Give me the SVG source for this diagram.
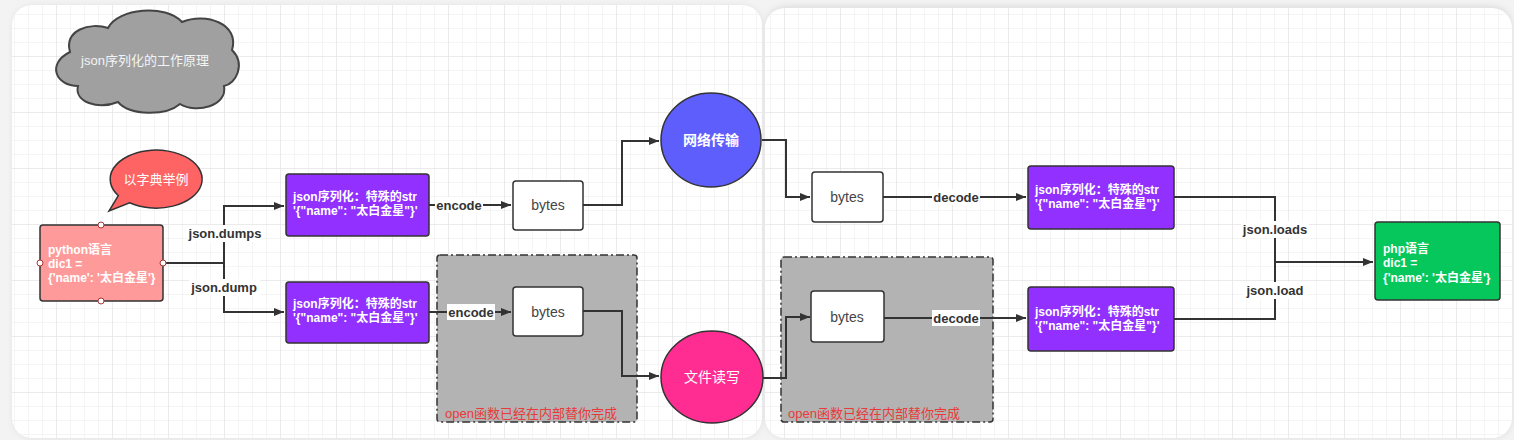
<svg xmlns="http://www.w3.org/2000/svg" width="1514" height="440" viewBox="0 0 1514 440">
<defs>
<pattern id="gridMinor" width="14" height="14" patternUnits="userSpaceOnUse">
<path d="M14 0 L0 0 0 14" fill="none" stroke="#ececec" stroke-width="1"/>
</pattern>
<pattern id="gridMajor" width="56" height="56" patternUnits="userSpaceOnUse">
<rect width="56" height="56" fill="url(#gridMinor)"/>
<path d="M56 0 L0 0 0 56" fill="none" stroke="#e0e0e0" stroke-width="1"/>
</pattern>
<marker id="arr" viewBox="0 0 10 10" refX="10" refY="5" markerWidth="10" markerHeight="10" markerUnits="userSpaceOnUse" orient="auto">
<path d="M0 1 L10 5 L0 9 Z" fill="#333"/>
</marker>
<filter id="sh" x="-5%" y="-5%" width="110%" height="110%">
<feGaussianBlur stdDeviation="3"/>
</filter>
</defs>
<style>
.panel{fill:url(#gridMajor);}
.edge{fill:none;stroke:#333;stroke-width:2;}
.lbl{font-family:"Liberation Sans","Noto Sans CJK SC",sans-serif;font-size:13px;font-weight:bold;fill:#333;}
.lblbg{fill:#fff;}
.purple rect{fill:#9130ff;stroke:#333;stroke-width:1.5;}
.wt{font-family:"Liberation Sans","Noto Sans CJK SC",sans-serif;font-size:12px;font-weight:bold;fill:#fff;}
.bytes rect{fill:#fff;stroke:#333;stroke-width:1.5;}
.bt{font-family:"Liberation Sans","Noto Sans CJK SC",sans-serif;font-size:14px;fill:#444;}
.grp rect{fill:#b3b3b3;stroke:#333;stroke-width:1.5;stroke-dasharray:8 3 2 3;}
.red{font-family:"Liberation Sans","Noto Sans CJK SC",sans-serif;font-size:13px;fill:#e83a3a;}
.ct{font-family:"Noto Sans CJK SC",sans-serif;font-size:14px;font-weight:bold;fill:#fff;}
.ct.reg{font-weight:normal;}
</style>
<rect width="1514" height="440" fill="#f3f3f3"/>
<rect x="13" y="6" width="749" height="432" rx="20" fill="#ddd" filter="url(#sh)"/>
<rect x="766" y="6" width="746" height="432" rx="20" fill="#ddd" filter="url(#sh)"/>
<rect x="12" y="5" width="750" height="433" rx="20" fill="#fff"/>
<rect x="12" y="5" width="750" height="433" rx="20" class="panel"/>
<rect x="765" y="8" width="747" height="430" rx="20" fill="#fff"/>
<rect x="765" y="8" width="747" height="430" rx="20" class="panel"/>

<g id="group-left" class="grp"><rect x="437" y="255" width="200" height="167" rx="3"/><text class="red" x="445" y="418">open函数已经在内部替你完成</text></g>
<g id="group-right" class="grp"><rect x="781" y="257" width="212" height="165" rx="3"/><text class="red" x="788" y="418">open函数已经在内部替你完成</text></g>

<g id="cloud">
<path d="M78 86 C56 86 46 64 70 52 C64 30 90 22 108 28 C118 8 166 4 182 22 C206 12 240 24 232 50 C246 64 236 84 224 86 C228 106 196 114 180 104 C166 116 130 116 118 102 C98 110 74 102 78 86 Z" fill="#a0a0a0" stroke="#444" stroke-width="2"/>
<text x="145" y="65" text-anchor="middle" font-family="Liberation Sans, Noto Sans CJK SC, sans-serif" font-size="13" fill="#f4f4f4">json序列化的工作原理</text>
</g>

<g id="bubble">
<path d="M118.3 195.6 A46 29 0 1 1 129.6 202.8 L109 211 Z" fill="#ff6464" stroke="#333" stroke-width="1.5"/>
<text x="156" y="184" text-anchor="middle" font-family="Noto Sans CJK SC, sans-serif" font-size="13" fill="#fff">以字典举例</text>
</g>

<g id="connectors">
<path class="edge" d="M163 263 H224 V206 H284" marker-end="url(#arr)"/>
<path class="edge" d="M224 263 V312 H284" marker-end="url(#arr)"/>
<path class="edge" d="M429 205 H511" marker-end="url(#arr)"/>
<path class="edge" d="M429 312 H511" marker-end="url(#arr)"/>
<path class="edge" d="M583 205 H622 V141 H659" marker-end="url(#arr)"/>
<path class="edge" d="M583 311 H622 V376 H659" marker-end="url(#arr)"/>
<path class="edge" d="M762 140 H786 V197 H810" marker-end="url(#arr)"/>
<path class="edge" d="M763 378 H786 V317 H810" marker-end="url(#arr)"/>
<path class="edge" d="M883 197 H1026" marker-end="url(#arr)"/>
<path class="edge" d="M884 318 H1026" marker-end="url(#arr)"/>
<path class="edge" d="M1174 197 H1275 V319 H1174"/>
<path class="edge" d="M1275 262 H1373" marker-end="url(#arr)"/>
<rect class="lblbg" x="187" y="225" width="76" height="17"/>
<text class="lbl" x="225" y="238" text-anchor="middle">json.dumps</text>
<rect class="lblbg" x="189" y="279" width="71" height="17"/>
<text class="lbl" x="224" y="292" text-anchor="middle">json.dump</text>
<rect class="lblbg" x="435" y="197" width="48" height="16"/>
<text class="lbl" x="459" y="210" text-anchor="middle">encode</text>
<rect class="lblbg" x="447" y="304" width="48" height="16"/>
<text class="lbl" x="471" y="317" text-anchor="middle">encode</text>
<rect class="lblbg" x="932" y="189" width="48" height="16"/>
<text class="lbl" x="956" y="202" text-anchor="middle">decode</text>
<rect class="lblbg" x="932" y="310" width="48" height="16"/>
<text class="lbl" x="956" y="323" text-anchor="middle">decode</text>
<rect class="lblbg" x="1241" y="221" width="68" height="17"/>
<text class="lbl" x="1275" y="234" text-anchor="middle">json.loads</text>
<rect class="lblbg" x="1243" y="282" width="64" height="17"/>
<text class="lbl" x="1275" y="295" text-anchor="middle">json.load</text>
</g>

<g id="python">
<rect x="40" y="225" width="123" height="76" rx="3" fill="#ff9a9a" stroke="#333" stroke-width="1.5"/>
<text class="wt" x="48" y="254">python语言</text>
<text class="wt" x="48" y="268">dic1 =</text>
<text class="wt" x="48" y="282">{'name': '太白金星'}</text>
<circle cx="101" cy="225" r="3" fill="#fff" stroke="#a33"/>
<circle cx="101" cy="301" r="3" fill="#fff" stroke="#a33"/>
<circle cx="40" cy="263" r="3" fill="#fff" stroke="#a33"/>
<circle cx="163" cy="263" r="3" fill="#fff" stroke="#a33"/>
</g>

<g id="str-top-left" class="purple"><rect x="286" y="174" width="143" height="62" rx="3"/>
<text class="wt" x="293" y="201">json序列化：特殊的str</text><text class="wt" x="293" y="215">'{"name": "太白金星"}'</text></g>
<g id="str-bottom-left" class="purple"><rect x="286" y="282" width="143" height="61" rx="3"/>
<text class="wt" x="293" y="308">json序列化：特殊的str</text><text class="wt" x="293" y="322">'{"name": "太白金星"}'</text></g>

<g id="bytes-top-left" class="bytes"><rect x="513" y="181" width="70" height="49" rx="3"/><text class="bt" x="548" y="210" text-anchor="middle">bytes</text></g>
<g id="bytes-bottom-left" class="bytes"><rect x="513" y="287" width="70" height="49" rx="3"/><text class="bt" x="548" y="317" text-anchor="middle">bytes</text></g>

<g id="network"><ellipse cx="711" cy="140" rx="50" ry="47" fill="#5e5efc" stroke="#333" stroke-width="1.5"/><text class="ct" x="711" y="145" text-anchor="middle">网络传输</text></g>
<g id="file"><ellipse cx="712" cy="377" rx="51" ry="46" fill="#ff2d92" stroke="#333" stroke-width="1.5"/><text class="ct reg" x="712" y="382" text-anchor="middle">文件读写</text></g>

<g id="bytes-top-right" class="bytes"><rect x="812" y="172" width="71" height="50" rx="3"/><text class="bt" x="847" y="202" text-anchor="middle">bytes</text></g>
<g id="bytes-bottom-right" class="bytes"><rect x="811" y="291" width="73" height="51" rx="3"/><text class="bt" x="847" y="322" text-anchor="middle">bytes</text></g>

<g id="str-top-right" class="purple"><rect x="1028" y="166" width="146" height="63" rx="3"/>
<text class="wt" x="1035" y="194">json序列化：特殊的str</text><text class="wt" x="1035" y="208">'{"name": "太白金星"}'</text></g>
<g id="str-bottom-right" class="purple"><rect x="1028" y="287" width="146" height="64" rx="3"/>
<text class="wt" x="1035" y="316">json序列化：特殊的str</text><text class="wt" x="1035" y="330">'{"name": "太白金星"}'</text></g>

<g id="php">
<rect x="1375" y="222" width="125" height="78" rx="3" fill="#05c75c" stroke="#333" stroke-width="1.5"/>
<text class="wt" x="1383" y="253">php语言</text>
<text class="wt" x="1383" y="267">dic1 =</text>
<text class="wt" x="1383" y="282">{'name': '太白金星'}</text>
</g>
</svg>
